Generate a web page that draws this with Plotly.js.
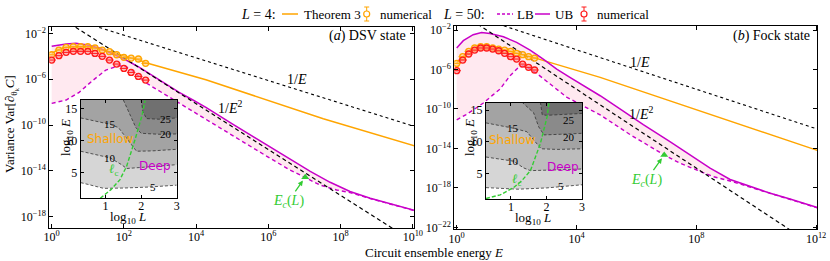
<!DOCTYPE html>
<html><head><meta charset="utf-8">
<script src="https://cdn.plot.ly/plotly-3.0.1.min.js"></script>
<style>html,body{margin:0;padding:0;background:#fff}</style>
</head><body><div id="chart" style="width:830px;height:261px"></div>
<script>
// ===== DATA (log10 values) =====
// numerical points: log10 E
const numLogE = [0,0.2,0.4,0.6,0.8,1.0,1.2,1.4,1.6,1.8,2.0,2.2,2.4,2.6];
// Panel (a) DSV state
const orangeNumA = [-3.87,-3.46,-3.22,-3.17,-3.17,-3.17,-3.28,-3.46,-3.60,-3.87,-4.09,-4.16,-4.24,-4.62];
const redNumA    = [-4.33,-3.95,-3.66,-3.57,-3.57,-3.57,-3.75,-4.01,-4.33,-4.68,-5.06,-5.41,-5.76,-6.08];
const thA_E = [0,0.2,0.4,0.6,0.8,1.0,1.2,1.4,1.6,1.8,2.0,2.2,2.4,2.61,4.27,7.52,10.08];
const thA_V = [-3.75,-3.40,-3.22,-3.16,-3.15,-3.17,-3.27,-3.40,-3.60,-3.80,-3.98,-4.15,-4.31,-4.56,-6.05,-9.45,-11.85];
const ubA_E = [0,0.2,0.4,0.67,0.95,1.32,1.69,2.06,2.43,2.80,3.17,3.53,3.91,4.27,5.0,6.05,6.6,7.16,7.71,8.26,8.82,9.37,9.92,10.1];
const ubA_V = [-3.13,-3.0,-2.93,-2.87,-2.99,-3.28,-3.81,-4.33,-4.97,-5.70,-6.42,-7.15,-7.82,-8.46,-9.9,-11.95,-13.0,-14.05,-15.0,-15.8,-16.4,-16.9,-17.36,-17.5];
const lbA_E = [0,0.2,0.4,0.76,1.13,1.5,1.87,2.06,2.24,2.63,3.19,4.0,5.0,6.05,6.6,6.97,7.43,7.89,8.26,8.82,9.37,9.92,10.1];
const lbA_V = [-8.11,-7.98,-7.82,-7.15,-6.13,-5.20,-4.82,-4.91,-5.26,-6.36,-7.45,-8.95,-10.9,-12.91,-13.93,-14.51,-15.24,-15.67,-15.9,-16.42,-16.92,-17.38,-17.52];
const invE_A_E = [1.0,10.1],  invE_A_V = [-1.17,-10.18];
const invE2_A_E = [0.5,9.6], invE2_A_V = [-1.15,-19.35];
const ecA_E = [7.02], ecA_V = [-14.57];
// Panel (b) Fock state
const orangeNumB = [-5.38,-4.70,-4.16,-3.82,-3.69,-3.69,-3.82,-3.93,-4.03,-4.16,-4.36,-4.50,-4.70,-4.84];
const redNumB    = [-6.12,-5.04,-4.43,-4.03,-3.82,-3.82,-3.93,-4.10,-4.36,-4.70,-4.94,-5.45,-5.78,-6.05];
const thB_E = [0,0.2,0.4,0.6,0.8,1.0,1.2,1.4,1.6,1.8,2.0,2.2,2.4,2.6,4.79,12.04];
const thB_V = [-5.3,-4.68,-4.16,-3.84,-3.70,-3.70,-3.80,-3.93,-4.04,-4.17,-4.35,-4.50,-4.66,-4.82,-6.8,-14.2];
const ubB_E = [0,0.22,0.55,0.83,1.11,1.56,2.0,2.45,2.89,3.34,3.78,4.23,4.79,5.5,6.23,7.12,7.79,8.46,9.13,9.8,10.47,11.13,12.04];
const ubB_V = [-3.82,-3.08,-2.47,-2.24,-2.34,-2.68,-3.25,-4.03,-4.94,-5.95,-6.80,-7.65,-8.66,-10.1,-11.6,-13.32,-14.7,-16.0,-17.15,-17.88,-18.55,-19.13,-19.99];
const lbB_E = [0,0.3,0.6,0.89,1.2,1.45,1.78,2.06,2.2,2.34,2.67,3.12,3.67,4.79,5.79,6.93,7.46,8.02,8.57,9.13,9.8,10.47,11.13,12.04];
const lbB_V = [-11.1,-10.6,-10.0,-9.4,-8.6,-7.98,-6.63,-5.8,-5.65,-5.75,-6.39,-7.5,-8.8,-10.6,-12.6,-14.67,-15.51,-16.19,-16.87,-17.3,-17.92,-18.58,-19.16,-20.02];
const invE_B_E = [1.0,12.1],  invE_B_V = [-1.0,-12.1];
const invE2_B_E = [0.7,11.2], invE2_B_V = [-1.4,-22.4];
const ecB_E = [6.93], ecB_V = [-14.67];
// Insets: contours (x = log10 L, y = log10 E)
const contourLevels = [5,10,15,20,25];
const insA = {
  c5:  {L:[0.3,0.95,1.5,2.2,3.0], E:[3.4,2.5,2.55,2.7,3.0]},
  c10: {L:[0.3,0.95,1.13,1.45,1.59,2.16,3.0], E:[8.3,7.5,7.26,6.2,5.6,5.84,6.2]},
  c15: {L:[0.3,0.9,1.13,1.36,1.73,1.87,2.3,3.0], E:[13.5,12.8,12.5,12.0,9.36,8.3,8.35,8.6]},
  c20: {L:[1.5,1.65,1.85,2.0,2.5,3.0], E:[16.3,14.5,12.0,11.1,10.95,11.0]},
  c25: {L:[2.0,2.05,2.15,2.5,3.0], E:[16.3,14.5,13.4,13.3,13.5]},
  lc:  {L:[0.85,1.15,1.40,1.59,1.83,2.02,2.11], E:[0.94,2.3,3.83,5.93,10.15,13.8,16.2]}
};
const insB = {
  c5:  {L:[0.3,1.2,2.0,3.0], E:[2.75,2.5,2.7,3.2]},
  c10: {L:[0.3,1.07,1.36,1.55,2.2,3.0], E:[7.6,6.94,5.87,5.44,5.55,5.7]},
  c15: {L:[0.3,1.07,1.45,1.7,1.85,2.3,3.0], E:[13.0,12.16,11.6,10.0,8.9,8.8,8.9]},
  c20: {L:[1.31,1.64,1.78,1.93,2.4,3.0], E:[16.3,14.6,12.4,11.1,11.2,11.35]},
  c25: {L:[1.83,1.88,2.0,2.5,3.0], E:[16.3,14.3,14.2,14.3,14.5]},
  lc:  {L:[0.3,0.7,1.07,1.3,1.55,1.83,2.02,2.07], E:[1.03,1.6,2.74,3.8,5.44,9.74,14.0,16.2]}
};
// tick labels
const xTickA = ['10<sup>0</sup>','10<sup>2</sup>','10<sup>4</sup>','10<sup>6</sup>','10<sup>8</sup>','10<sup>10</sup>'];
const xTickB = ['10<sup>0</sup>','10<sup>4</sup>','10<sup>8</sup>','10<sup>12</sup>'];
const yTickA = ['10<sup>−2</sup>','10<sup>−6</sup>','10<sup>−10</sup>','10<sup>−14</sup>','10<sup>−18</sup>'];
const yTickB = ['10<sup>−2</sup>','10<sup>−6</sup>','10<sup>−10</sup>','10<sup>−14</sup>','10<sup>−18</sup>','10<sup>−22</sup>'];

// ===== BUILD =====
const P = a => a.map(v => Math.pow(10, v));
const serif = 'Liberation Serif, Times New Roman, serif';
const sans = 'DejaVu Sans, sans-serif';
const ORANGE = '#ffa500', MAG = '#c800c8', RED = '#ff1a1a', GREEN = '#33cc33', PINK = 'rgba(255,182,206,0.3)';
const greys = ['#ffffff','#d6d6d6','#bdbdbd','#a3a3a3','#8a8a8a','#707070'];

function panelTraces(xa, ya, d) {
  const t = [];
  t.push({x: P(d.ubE.concat(d.lbE.slice().reverse())), y: P(d.ubV.concat(d.lbV.slice().reverse())),
          fill:'toself', fillcolor:PINK, line:{width:0}, mode:'lines', xaxis:xa, yaxis:ya, hoverinfo:'skip'});
  t.push({x:P(d.thE), y:P(d.thV), mode:'lines', line:{color:ORANGE, width:1.5}, xaxis:xa, yaxis:ya});
  t.push({x:P(d.lbE), y:P(d.lbV), mode:'lines', line:{color:MAG, width:1.4, dash:'4px,3px'}, xaxis:xa, yaxis:ya});
  t.push({x:P(d.ubE), y:P(d.ubV), mode:'lines', line:{color:MAG, width:1.5}, xaxis:xa, yaxis:ya});
  t.push({x:P(d.iE), y:P(d.iV), mode:'lines', line:{color:'black', width:1.1, dash:'dot'}, xaxis:xa, yaxis:ya});
  t.push({x:P(d.i2E), y:P(d.i2V), mode:'lines', line:{color:'black', width:1.2, dash:'4px,3px'}, xaxis:xa, yaxis:ya});
  t.push({x:P(numLogE), y:P(d.oN), mode:'markers', marker:{symbol:'circle', size:6, color:'rgba(255,200,120,0.6)', line:{color:ORANGE, width:1.3}}, xaxis:xa, yaxis:ya});
  t.push({x:P(numLogE), y:P(d.oN), mode:'markers', marker:{symbol:'line-ew', size:6, line:{color:ORANGE, width:1}}, xaxis:xa, yaxis:ya});
  t.push({x:P(numLogE), y:P(d.rN), mode:'markers', marker:{symbol:'circle', size:6, color:'rgba(255,150,150,0.6)', line:{color:RED, width:1.3}}, xaxis:xa, yaxis:ya});
  t.push({x:P(numLogE), y:P(d.rN), mode:'markers', marker:{symbol:'line-ew', size:6, line:{color:RED, width:1}}, xaxis:xa, yaxis:ya});
  t.push({x:P(d.ecE), y:P(d.ecV), mode:'markers', marker:{symbol:'triangle-up', size:7, color:GREEN}, xaxis:xa, yaxis:ya});
  return t;
}
function insetTraces(xa, ya, ins, xr, yr) {
  const t = [];
  t.push({x:[xr[0]-1, xr[1]+1, xr[1]+1, xr[0]-1], y:[yr[0]-2, yr[0]-2, yr[1]+2, yr[1]+2], fill:'toself', fillcolor:greys[0], line:{width:0}, mode:'lines', xaxis:xa, yaxis:ya});
  contourLevels.forEach((lv, i) => {
    const c = ins['c'+lv];
    const px = c.L.concat([xr[1]+1, xr[0]-1]);
    const py = c.E.concat([yr[1]+2, yr[1]+2]);
    if (c.L[0] > xr[0] + 0.01) { px.pop(); py.pop(); }
    t.push({x:px, y:py, fill:'toself', fillcolor:greys[i+1], line:{width:0}, mode:'lines', xaxis:xa, yaxis:ya});
  });
  contourLevels.forEach(lv => {
    const c = ins['c'+lv];
    t.push({x:c.L, y:c.E, mode:'lines', line:{color:'#333', width:0.8, dash:'3px,2px'}, xaxis:xa, yaxis:ya});
  });
  t.push({x:ins.lc.L, y:ins.lc.E, mode:'lines', line:{color:GREEN, width:1.4, dash:'4px,2px'}, xaxis:xa, yaxis:ya});
  return t;
}

const traces = [].concat(
  panelTraces('x','y', {ubE:ubA_E, ubV:ubA_V, lbE:lbA_E, lbV:lbA_V, thE:thA_E, thV:thA_V, iE:invE_A_E, iV:invE_A_V, i2E:invE2_A_E, i2V:invE2_A_V, oN:orangeNumA, rN:redNumA, ecE:ecA_E, ecV:ecA_V}),
  panelTraces('x2','y2', {ubE:ubB_E, ubV:ubB_V, lbE:lbB_E, lbV:lbB_V, thE:thB_E, thV:thB_V, iE:invE_B_E, iV:invE_B_V, i2E:invE2_B_E, i2V:invE2_B_V, oN:orangeNumB, rN:redNumB, ecE:ecB_E, ecV:ecB_V}),
  insetTraces('x3','y3', insA, [0.3,3.0], [0.95,16.3]),
  insetTraces('x4','y4', insB, [0.3,3.0], [0.9,16.2])
);

const axBase = {showline:true, linecolor:'black', linewidth:1, mirror:'allticks', ticks:'inside', ticklen:4, tickwidth:1, tickcolor:'black',
  showgrid:false, zeroline:false, tickfont:{family:serif, size:12, color:'black'}};
const insAx = Object.assign({}, axBase, {ticklen:3, tickfont:{family:serif, size:12, color:'black'}});
const W = 830, H = 261;
const fx = x => x / W, fy = y => 1 - y / H;

const layout = {
  width: W, height: H, margin:{l:0,r:0,t:0,b:0}, paper_bgcolor:'white', plot_bgcolor:'white', showlegend:false,
  font:{family:serif, color:'black'},
  xaxis: Object.assign({}, axBase, {type:'log', range:[-0.066,10.04], domain:[fx(49.3), fx(414.3)], anchor:'y', tickvals:P([0,2,4,6,8,10]), ticktext:xTickA, ticklabelstandoff:-2}),
  yaxis: Object.assign({}, axBase, {type:'log', range:[-18.99,-1.42], domain:[fy(228), fy(26.7)], anchor:'x', tickvals:P([-2,-6,-10,-14,-18]), ticktext:yTickA}),
  xaxis2: Object.assign({}, axBase, {type:'log', range:[-0.08,12.04], domain:[fx(454.3), fx(817.3)], anchor:'y2', tickvals:P([0,4,8,12]), ticktext:xTickB, ticklabelstandoff:-2}),
  yaxis2: Object.assign({}, axBase, {type:'log', range:[-22.2,-1.59], domain:[fy(229.3), fy(26)], anchor:'x2', tickvals:P([-2,-6,-10,-14,-18,-22]), ticktext:yTickB}),
  xaxis3: Object.assign({}, insAx, {range:[0.3,3.0], domain:[fx(80.7), fx(176.7)], anchor:'y3', tickvals:[1,2,3], ticklabelstandoff:-4}),
  yaxis3: Object.assign({}, insAx, {range:[0.95,16.3], domain:[fy(198.3), fy(100)], anchor:'x3', tickvals:[5,10,15]}),
  xaxis4: Object.assign({}, insAx, {range:[0.3,3.0], domain:[fx(486), fx(582)], anchor:'y4', tickvals:[1,2,3], ticklabelstandoff:-4}),
  yaxis4: Object.assign({}, insAx, {range:[0.9,16.2], domain:[fy(199.3), fy(102.7)], anchor:'x4', tickvals:[5,10,15]}),
  shapes: [], annotations: []
};

const A = layout.annotations, S = layout.shapes;
function txt(x, y, text, opt) {
  A.push(Object.assign({xref:'paper', yref:'paper', x:fx(x), y:fy(y), text:text, showarrow:false,
    font:{family:serif, size:13, color:'black'}, xanchor:'center', yanchor:'middle'}, opt || {}));
}
const f14 = {family:serif, size:14, color:'black'};
// y title & x title
txt(11, 124, 'Variance Var[∂<sub>θ<sub>k</sub></sub><i>C</i>]', {textangle:-90});
txt(434, 252, 'Circuit ensemble energy <i>E</i>');
// inset axis titles
txt(128, 217, 'log<sub>10</sub> <i>L</i>');
txt(66, 138, 'log<sub>10</sub> <i>E</i>', {textangle:-90});
txt(533, 218, 'log<sub>10</sub> <i>L</i>');
txt(470, 138, 'log<sub>10</sub> <i>E</i>', {textangle:-90});
// panel labels
txt(408, 36, '(<i>a</i>) DSV state', {xanchor:'right', font:f14});
txt(812, 36, '(<i>b</i>) Fock state', {xanchor:'right', font:f14});
// 1/E labels
txt(297, 80, '1/<i>E</i>', {font:f14});
txt(230, 107, '1/<i>E</i><sup>2</sup>', {font:f14});
txt(640, 62, '1/<i>E</i>', {font:f14});
txt(641, 113, '1/<i>E</i><sup>2</sup>', {font:f14});
// Ec(L) arrows
A.push({xref:'x', yref:'y', x:ecA_E[0], y:ecA_V[0], ax:-17, ay:24, text:'<i>E<sub>c</sub></i>(<i>L</i>)', showarrow:true, arrowhead:2, arrowsize:0.8, arrowwidth:1.3, arrowcolor:GREEN, standoff:4, font:{family:serif,size:14,color:GREEN}});
A.push({xref:'x2', yref:'y2', x:ecB_E[0], y:ecB_V[0], ax:-18, ay:25, text:'<i>E<sub>c</sub></i>(<i>L</i>)', showarrow:true, arrowhead:2, arrowsize:0.8, arrowwidth:1.3, arrowcolor:GREEN, standoff:4, font:{family:serif,size:14,color:GREEN}});
// inset texts
function itxt(xr, yr, x, y, text, opt) {
  A.push(Object.assign({xref:xr, yref:yr, x:x, y:y, text:text, showarrow:false, font:{family:serif,size:11,color:'black'}}, opt || {}));
}
[['x3','y3', [[2.34,2.68,'5'],[1.13,7.3,'10'],[1.13,12.5,'15'],[2.7,10.94,'20'],[2.7,13.3,'25']], [1.13,10.26], [2.39,5.94], [1.22,5.4]],
 ['x4','y4', [[2.4,2.95,'5'],[1.07,6.94,'10'],[1.07,12.16,'15'],[2.64,10.8,'20'],[2.64,13.5,'25']], [1.05,10.27], [2.46,6.0], [1.17,4.1]]
].forEach(([xr, yr, labs, sh, dp, lc]) => {
  labs.forEach(l => itxt(xr, yr, l[0], l[1], l[2]));
  itxt(xr, yr, sh[0], sh[1], 'Shallow', {font:{family:sans, size:12, color:ORANGE}});
  itxt(xr, yr, dp[0], dp[1], 'Deep', {font:{family:sans, size:12, color:MAG}});
  itxt(xr, yr, lc[0], lc[1], '<i>ℓ</i><sub>c</sub>', {font:{family:serif, size:13, color:GREEN}});
});
// legend (top row)
txt(258, 14, '<i>L</i> = 4:', {font:f14});
S.push({type:'line', xref:'paper', yref:'paper', x0:fx(282), x1:fx(298), y0:fy(14), y1:fy(14), line:{color:ORANGE, width:1.5}});
txt(302, 14, 'Theorem 3', {xanchor:'left'});
function legMarker(x, col, fill) {
  S.push({type:'line', xref:'paper', yref:'paper', x0:fx(x), x1:fx(x), y0:fy(7), y1:fy(21), line:{color:col, width:1}});
  S.push({type:'line', xref:'paper', yref:'paper', x0:fx(x-2.5), x1:fx(x+2.5), y0:fy(7), y1:fy(7), line:{color:col, width:1}});
  S.push({type:'line', xref:'paper', yref:'paper', x0:fx(x-2.5), x1:fx(x+2.5), y0:fy(21), y1:fy(21), line:{color:col, width:1}});
  S.push({type:'circle', xref:'paper', yref:'paper', x0:fx(x-3), x1:fx(x+3), y0:fy(17), y1:fy(11), line:{color:col, width:1.2}, fillcolor:fill});
}
legMarker(366.7, ORANGE, '#ffffff');
txt(378, 14, 'numerical', {xanchor:'left'});
txt(464, 14, '<i>L</i> = 50:', {font:f14});
S.push({type:'line', xref:'paper', yref:'paper', x0:fx(497), x1:fx(513), y0:fy(14), y1:fy(14), line:{color:MAG, width:1.4, dash:'3px,2px'}});
txt(515, 14, 'LB', {xanchor:'left'});
S.push({type:'line', xref:'paper', yref:'paper', x0:fx(535), x1:fx(550), y0:fy(14), y1:fy(14), line:{color:MAG, width:1.5}});
txt(553, 14, 'UB', {xanchor:'left'});
legMarker(584, RED, '#ffffff');
txt(595, 14, 'numerical', {xanchor:'left'});

Plotly.newPlot('chart', traces, layout, {staticPlot:true});
</script></body></html>
